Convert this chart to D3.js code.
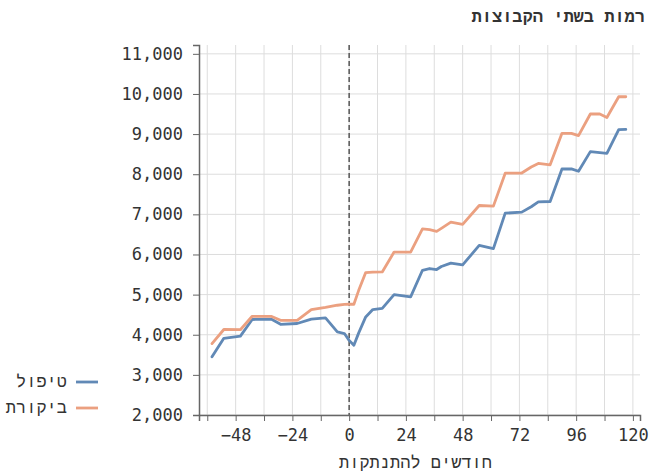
<!DOCTYPE html>
<html>
<head>
<meta charset="utf-8">
<script src="https://cdn.jsdelivr.net/npm/d3@7"></script>
<style>
  body { margin: 0; background: white; }
  text { font-family: "DejaVu Sans Mono", "Liberation Mono", monospace; fill: #333; }
  .heb { font-family: "Liberation Mono", monospace; }
</style>
</head>
<body>
<div id="my_dataviz"></div>
<script>
// data
var months = [-58, -53, -46, -41, -33, -29, -22, -16, -10, -5, -2, 0, 2, 4, 7, 10, 14, 19, 26, 31, 34, 37, 39, 43, 48, 55, 61, 66, 73, 77, 80, 85, 90, 94, 97, 102, 106, 109, 114, 117];
var treatment = [3450, 3910, 3965, 4380, 4390, 4260, 4280, 4390, 4420, 4070, 4030, 3860, 3740, 4040, 4444, 4627, 4655, 5000, 4945, 5606, 5650, 5625, 5700, 5785, 5740, 6226, 6145, 7030, 7055, 7190, 7310, 7320, 8130, 8135, 8075, 8563, 8540, 8520, 9110, 9115];
var control = [3780, 4130, 4125, 4460, 4460, 4360, 4360, 4627, 4680, 4735, 4755, 4760, 4760, 5100, 5550, 5560, 5565, 6060, 6060, 6640, 6620, 6575, 6650, 6805, 6750, 7220, 7205, 8025, 8030, 8180, 8270, 8235, 9018, 9018, 8960, 9500, 9500, 9415, 9930, 9930];
var seriesNames = ["טיפול", "ביקורת"];
var seriesColors = ["#6189b6", "#eba080"];
var yTicks = [2000, 3000, 4000, 5000, 6000, 7000, 8000, 9000, 10000, 11000];
var xTicks = [-48, -24, 0, 24, 48, 72, 96, 120];
var xMinorTicks = [-60, -48, -36, -24, -12, 0, 12, 24, 36, 48, 60, 72, 84, 96, 108, 120];

var W = 651, H = 472;
var plot = {left: 199, right: 640, top: 45, bottom: 415};

var svg = d3.select("#my_dataviz")
  .append("svg")
    .attr("width", W)
    .attr("height", H);

var x = d3.scaleLinear().domain([-63.5, 123]).range([plot.left, plot.right]);
var y = d3.scaleLinear().domain([2000, 11220]).range([plot.bottom, plot.top]);

// grid
svg.append("g").selectAll("line")
  .data(yTicks).enter().append("line")
    .attr("x1", plot.left).attr("x2", plot.right)
    .attr("y1", function(d) { return y(d) }).attr("y2", function(d) { return y(d) })
    .style("stroke", "#ddd").style("stroke-width", 1);
svg.append("g").selectAll("line")
  .data(xMinorTicks).enter().append("line")
    .attr("x1", function(d) { return x(d) }).attr("x2", function(d) { return x(d) })
    .attr("y1", plot.top).attr("y2", plot.bottom)
    .style("stroke", "#ddd").style("stroke-width", 1);

// dashed line at 0
svg.append("line")
  .attr("x1", x(0)).attr("x2", x(0))
  .attr("y1", plot.top).attr("y2", plot.bottom)
  .style("stroke", "#555").style("stroke-width", 1.5)
  .style("stroke-dasharray", "5,3");

// lines
var line = d3.line();
[treatment, control].forEach(function(vals, i) {
  var pts = months.map(function(m, j) { return [x(m), y(vals[j])] });
  svg.append("path")
    .attr("d", line(pts))
    .style("fill", "none")
    .style("stroke", seriesColors[i])
    .style("stroke-width", 2.8)
    .style("stroke-linejoin", "round")
    .style("stroke-linecap", "round");
});

// axes
var yAxis = svg.append("g")
  .attr("transform", "translate(" + plot.left + ",0)")
  .call(d3.axisLeft(y).tickValues(yTicks).tickSize(6).tickPadding(10).tickFormat(d3.format(",")));
var xAxis = svg.append("g")
  .attr("transform", "translate(0," + plot.bottom + ")")
  .call(d3.axisBottom(x).tickValues(xMinorTicks).tickSize(6).tickPadding(8)
    .tickFormat(function(d) { return xTicks.indexOf(d) >= 0 ? d3.format("")(d) : "" }));
[yAxis, xAxis].forEach(function(a) {
  a.selectAll("text").style("font-size", "17px").style("fill", "#333")
    .style("font-family", "DejaVu Sans Mono");
  a.selectAll("line").style("stroke", "#666");
  a.select(".domain").style("stroke", "#666").style("stroke-width", 1.5);
});

// titles
svg.append("text")
  .attr("class", "heb")
  .attr("x", 645).attr("y", 22)
  .attr("text-anchor", "end")
  .style("font-size", "17px")
  .style("font-weight", "bold")
  .text("רמות בשתי הקבוצות");
svg.append("text")
  .attr("class", "heb")
  .attr("x", (plot.left + plot.right) / 2 - 4).attr("y", 468)
  .attr("text-anchor", "middle")
  .style("font-size", "17px")
  .text("חודשים להתנתקות");

// legend
var legend = svg.append("g");
seriesNames.forEach(function(name, i) {
  var ly = 382 + i * 26;
  legend.append("line")
    .attr("x1", 76).attr("x2", 98).attr("y1", ly).attr("y2", ly)
    .style("stroke", seriesColors[i]).style("stroke-width", 2.8);
  legend.append("text")
    .attr("class", "heb")
    .attr("x", 67).attr("y", ly + 5)
    .attr("text-anchor", "end")
    .style("font-size", "17px")
    .text(name);
});
</script>
</body>
</html>
